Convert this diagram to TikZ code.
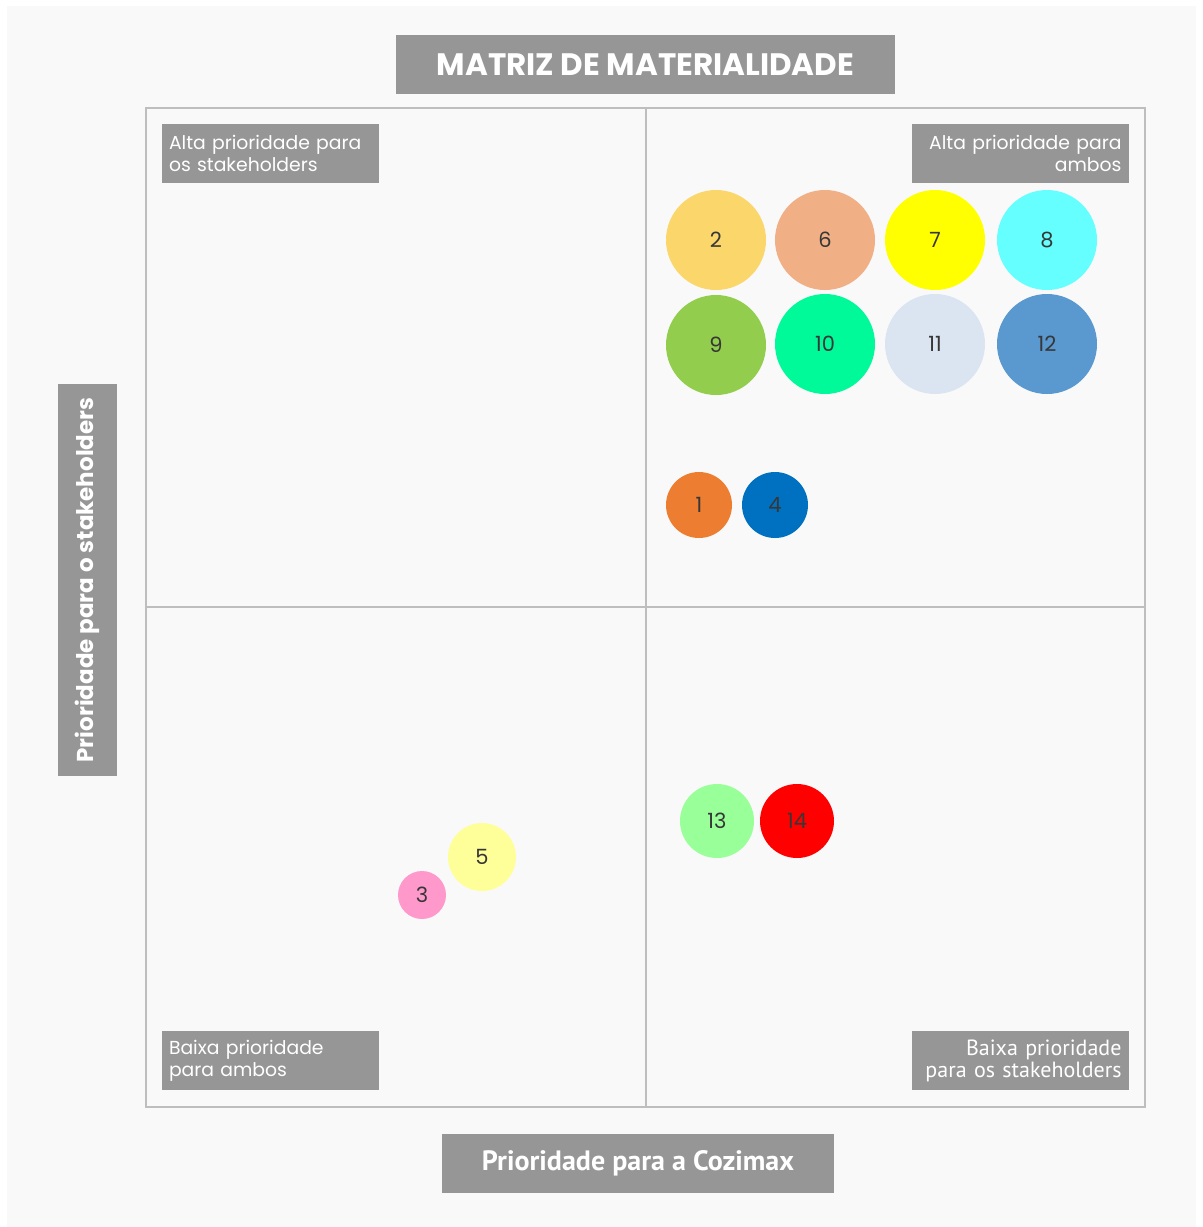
\documentclass[tikz,border=0pt]{standalone}
\usepackage{fontspec}
\setmainfont{Poppins}
\newfontfamily\narrowfont{PT Sans}
\usetikzlibrary{positioning}
\definecolor{boxgray}{RGB}{150,150,150}
\definecolor{panelgray}{RGB}{249,249,249}
\definecolor{gridgray}{RGB}{190,190,190}
\definecolor{numgray}{RGB}{55,55,55}
\definecolor{cyellow}{RGB}{250,214,107}
\definecolor{csalmon}{RGB}{240,175,132}
\definecolor{cyel}{RGB}{255,255,0}
\definecolor{ccyan}{RGB}{102,255,255}
\definecolor{cgreen}{RGB}{146,205,77}
\definecolor{cmint}{RGB}{0,250,153}
\definecolor{cpale}{RGB}{219,229,242}
\definecolor{cblue}{RGB}{90,152,208}
\definecolor{corange}{RGB}{237,125,49}
\definecolor{cdeep}{RGB}{0,112,192}
\definecolor{clemon}{RGB}{255,255,153}
\definecolor{cpink}{RGB}{255,153,204}
\definecolor{clight}{RGB}{153,255,153}
\definecolor{cred}{RGB}{255,0,0}
\tikzset{
  labelbox/.style={fill=boxgray,text=white,minimum width=108.5pt,minimum height=29.5pt,
    inner xsep=3.5pt,inner ysep=0pt,text width=101.5pt,
    execute at begin node={\hyphenpenalty=10000\relax},
    font=\fontsize{9.4}{11}\selectfont},
  bigbox/.style={fill=boxgray,text=white,inner sep=0pt,minimum height=29.5pt},
  topic/.style={circle,inner sep=0pt,text=numgray,font=\fontsize{10.5}{12}\selectfont},
  gridline/.style={draw=gridgray,line width=0.6pt}
}
\begin{document}
\begin{tikzpicture}[x=0.5pt,y=-0.5pt]
	\useasboundingbox (0,0) rectangle (1203,1227);
	\fill[panelgray] (7,6) rectangle (1196,1227);

	\draw[gridline] (146,108) rectangle (1145,1107);
	\draw[gridline] (646,108) -- (646,1107);
	\draw[gridline] (146,607) -- (1145,607);

	\node[bigbox,minimum width=249.5pt,font=\fontsize{15.5}{17}\selectfont\bfseries] (title) at (645.5,64.5) {MATRIZ DE MATERIALIDADE};
	\node[bigbox,minimum width=196pt,rotate=90,font=\fontsize{11.5}{13}\selectfont\bfseries] (yaxis) at (87.5,580) {Prioridade para o stakeholders};
	\node[bigbox,minimum width=196pt,font=\narrowfont\fontsize{14}{16}\selectfont\bfseries] (xaxis) at (638,1163.5) {Prioridade para a Cozimax};

	\node[labelbox,align=left] (tl) at (270.5,153.5) {Alta prioridade para\\os stakeholders};
	\node[labelbox,align=right] (tr) at (1020,153.5) {Alta prioridade para\\ambos};
	\node[labelbox,align=left] (bl) at (270.5,1060.5) {Baixa prioridade\\para ambos};
	\node[labelbox,align=right,font=\narrowfont\fontsize{11}{11}\selectfont] (br) at (1020,1060.5) {Baixa prioridade\\para os stakeholders};

	\begin{scope}[every node/.style={topic,minimum size=50pt}]
		\node[fill=cyellow] (t2) at (716,240) {2};
		\node[fill=csalmon] (t6) at (825,240) {6};
		\node[fill=cyel] (t7) at (935,240) {7};
		\node[fill=ccyan] (t8) at (1047,240) {8};

		\node[fill=cgreen] (t9) at (716,345) {9};
		\node[fill=cmint] (t10) at (825,344) {10};
		\node[fill=cpale] (t11) at (935,344) {11};
		\node[fill=cblue] (t12) at (1047,344) {12};
	\end{scope}

	\node[topic,minimum size=33pt,fill=corange] (t1) at (699,505) {1};
	\node[topic,minimum size=33pt,fill=cdeep] (t4) at (775,505) {4};

	\node[topic,minimum size=34pt,fill=clemon] (t5) at (482,857) {5};
	\node[topic,minimum size=24pt,fill=cpink] (t3) at (422,895) {3};

	\node[topic,minimum size=37pt,fill=clight] (t13) at (717,821) {13};
	\node[topic,minimum size=37pt,fill=cred] (t14) at (797,821) {14};
\end{tikzpicture}
\end{document}
